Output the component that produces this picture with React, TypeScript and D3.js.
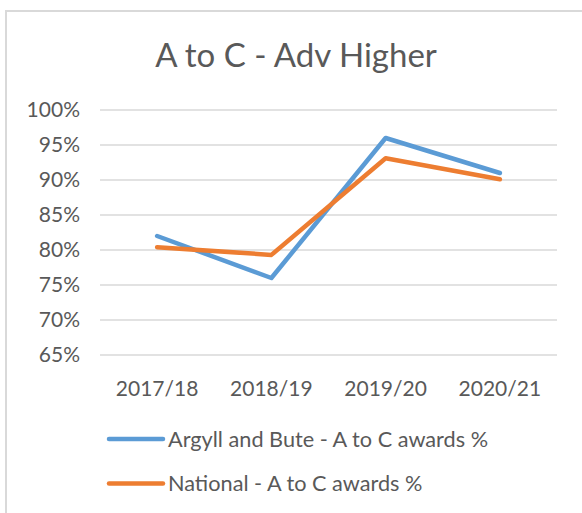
import React from "react";
import * as d3 from "d3";

// values
const years = ["2017/18", "2018/19", "2019/20", "2020/21"];
const argyll = [82, 76, 96, 91];
const national = [80.4, 79.3, 93.1, 90.1];
const yTicks = [65, 70, 75, 80, 85, 90, 95, 100];
const seriesNames = ["Argyll and Bute - A to C awards %", "National - A to C awards %"];
const seriesColors = ["#5B9BD5", "#ED7D31"];

const width = 582;
const height = 513;
const font = "Lato, 'Open Sans', sans-serif";
const textColor = "#595959";

export default function App() {
  const x = d3.scalePoint<string>().domain(years).range([100, 557]).padding(0.5);
  const y = d3.scaleLinear().domain([65, 100]).range([355, 110]);

  const line = d3
    .line<number>()
    .x((d, i) => x(years[i]) as number)
    .y((d) => y(d));

  const series = [argyll, national];

  return (
    <svg
      width={width}
      height={height}
      style={{ position: "absolute", left: 0, top: 0 }}
      fontFamily={font}
    >
      <rect x={0} y={0} width={width} height={height} fill="#fff" />
      {/* chart border, only top and left visible */}
      <rect x={6} y={11} width={width + 10} height={height + 10} fill="none" stroke="#d9d9d9" strokeWidth={2} />

      <text x={296} y={67} textAnchor="middle" fontSize={33} fill={textColor}>
        A to C - Adv Higher
      </text>

      {yTicks.map((t) => (
        <g key={t}>
          <line x1={100} x2={557} y1={y(t)} y2={y(t)} stroke="#d9d9d9" strokeWidth={1.3} />
          <text x={80} y={y(t)} dy="0.35em" textAnchor="end" fontSize={21} fill={textColor}>
            {t}%
          </text>
        </g>
      ))}

      {years.map((yr) => (
        <text key={yr} x={x(yr)} y={396} textAnchor="middle" fontSize={21} fill={textColor}>
          {yr}
        </text>
      ))}

      {series.map((s, i) => (
        <path
          key={i}
          d={line(s) || ""}
          fill="none"
          stroke={seriesColors[i]}
          strokeWidth={4.5}
          strokeLinecap="round"
          strokeLinejoin="round"
        />
      ))}

      {seriesNames.map((name, i) => {
        const ly = 439 + i * 44.5;
        return (
          <g key={name}>
            <line x1={109} x2={163} y1={ly} y2={ly} stroke={seriesColors[i]} strokeWidth={4.5} strokeLinecap="round" />
            <text x={168} y={ly} dy="0.35em" fontSize={21.7} fill={textColor}>
              {name}
            </text>
          </g>
        );
      })}
    </svg>
  );
}
